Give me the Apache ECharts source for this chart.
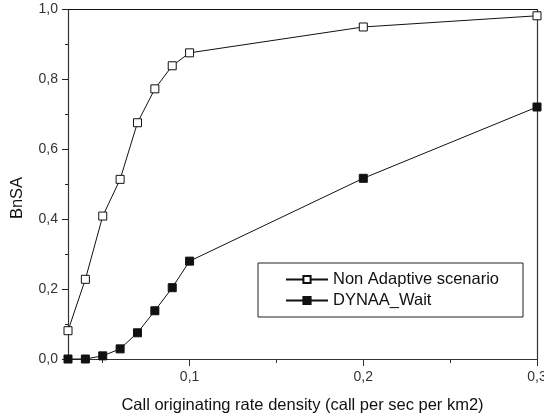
<!DOCTYPE html>
<html lang="en">
<head>
    <meta charset="UTF-8">
    <title>BnSA</title>
    <style>
        html, body { margin: 0; padding: 0; background: #fff; }
        #main { width: 544px; height: 419px; }
    </style>
</head>
<body>
    <div id="main"></div>
</body>
<script src="https://cdn.jsdelivr.net/npm/echarts@6/dist/echarts.min.js"></script>
<script>
    // data
    var rates = [0.03, 0.04, 0.05, 0.06, 0.07, 0.08, 0.09, 0.1, 0.2, 0.3];
    var nonAdaptive = [0.081, 0.228, 0.409, 0.514, 0.676, 0.773, 0.839, 0.876, 0.95, 0.982];
    var dynaaWait = [0.0, 0.0, 0.009, 0.029, 0.075, 0.138, 0.204, 0.28, 0.517, 0.721];
    var xMajor = [0.1, 0.2, 0.3];
    var xMinor = [0.05, 0.15, 0.25];

    var fnt = 'Liberation Sans, Arial, sans-serif';
    var comma = function (v) { return v.toFixed(1).replace('.', ','); };

    function pairs(ys) {
        return rates.map(function (x, i) { return [x, ys[i]]; });
    }

    var mChart = echarts.init(document.getElementById('main'));
    var option = {
        animation: false,
        grid: { left: 68, right: 7, top: 9.5, bottom: 60, outerBoundsMode: 'none', containLabel: false },
        xAxis: [
            {
                type: 'value', min: 0.03, max: 0.3, position: 'bottom',
                axisLine: { lineStyle: { color: '#333', width: 1.2 } },
                axisTick: { customValues: xMajor, length: 7, lineStyle: { color: '#333' } },
                axisLabel: { customValues: xMajor, formatter: comma, color: '#333', fontSize: 14, fontFamily: fnt, margin: 11 },
                splitLine: { show: false },
                name: 'Call originating rate density (call per sec per km2)',
                nameLocation: 'middle', nameGap: 38,
                nameTextStyle: { color: '#111', fontSize: 16.5, fontFamily: fnt }
            },
            {
                // minor ticks
                type: 'value', min: 0.03, max: 0.3, position: 'bottom',
                axisLine: { show: false },
                axisTick: { customValues: xMinor, length: 4, lineStyle: { color: '#333' } },
                axisLabel: { show: false },
                splitLine: { show: false }
            },
            {
                // frame top
                type: 'value', min: 0.03, max: 0.3, position: 'top',
                axisLine: { lineStyle: { color: '#111', width: 1.2 } },
                axisTick: { show: false }, axisLabel: { show: false }, splitLine: { show: false }
            }
        ],
        yAxis: [
            {
                type: 'value', min: 0, max: 1, interval: 0.2, position: 'left',
                axisLine: { show: true, lineStyle: { color: '#333', width: 1.2 } },
                axisTick: { show: true, length: 6, lineStyle: { color: '#222', width: 1 } },
                minorTick: { show: true, splitNumber: 2, length: 3, lineStyle: { color: '#222', width: 1 } },
                axisLabel: { formatter: comma, color: '#333', fontSize: 14, fontFamily: fnt, margin: 10 },
                splitLine: { show: false }
            },
            {
                // frame right
                type: 'value', min: 0, max: 1, position: 'right',
                axisLine: { show: true, lineStyle: { color: '#333', width: 1.2 } },
                axisTick: { show: false }, axisLabel: { show: false }, splitLine: { show: false }
            }
        ],
        legend: {
            left: 258, top: 263,
            orient: 'vertical',
            padding: [8, 24, 8, 27],
            itemGap: 4,
            itemWidth: 42, itemHeight: 9,
            borderColor: '#222', borderWidth: 1,
            textStyle: { color: '#111', fontSize: 16.5, fontFamily: fnt },
            data: ['Non Adaptive scenario', 'DYNAA_Wait']
        },
        graphic: [
            {
                type: 'text', x: 17, y: 198, rotation: Math.PI / 2,
                style: { text: 'BnSA', fill: '#111', font: '16.5px ' + fnt, align: 'center', verticalAlign: 'middle' }
            }
        ],
        series: [
            {
                name: 'Non Adaptive scenario', type: 'line',
                data: pairs(nonAdaptive),
                symbol: 'rect', symbolSize: 8,
                lineStyle: { color: '#111', width: 1 },
                itemStyle: { color: '#fff', borderColor: '#111', borderWidth: 1 },
                clip: false
            },
            {
                name: 'DYNAA_Wait', type: 'line',
                data: pairs(dynaaWait),
                symbol: 'rect', symbolSize: 8,
                lineStyle: { color: '#111', width: 1 },
                itemStyle: { color: '#111', borderColor: '#111', borderWidth: 1 },
                clip: false
            }
        ]
    };
    mChart.setOption(option);
</script>
</html>
